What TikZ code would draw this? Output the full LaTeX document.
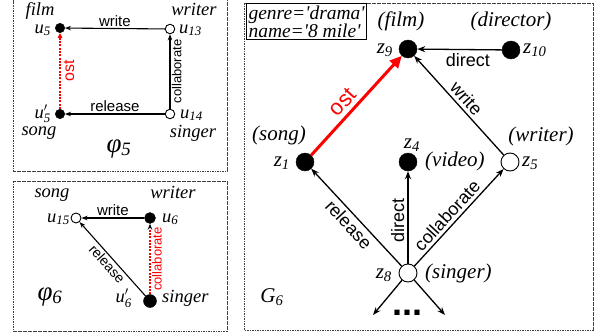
\documentclass[tikz,border=0pt]{standalone}
\usepackage{amsmath}
\usepackage{fontspec}
\setmainfont{Liberation Serif}
\setsansfont{Liberation Sans}
\usetikzlibrary{arrows.meta}
\newcommand\nl[2]{\textit{#1}$_{\textit{#2}}$}
\newcommand\pl[2]{\textit{#1}$^{\prime}_{\textit{#2}}$}
\begin{document}
\begin{tikzpicture}[x=1pt,y=-1pt,
  boxst/.style={draw=black!75,line width=0.9pt,dash pattern=on 1.6pt off 0.9pt},
  fnode/.style={circle,fill=black,draw=black,inner sep=0pt,minimum size=#1},
  fnode/.default=9.5pt,
  onode/.style={circle,fill=white,draw=black,line width=0.9pt,inner sep=0pt,minimum size=#1},
  onode/.default=9.5pt,
  slab/.style={inner sep=0pt,font=\fontsize{18.5}{20}\selectfont},
  glab/.style={inner sep=0pt,font=\fontsize{21}{23}\selectfont},
  philab/.style={inner sep=0pt,font=\fontsize{27}{29}\selectfont},
  sarr/.style={line width=1.1pt,-{Stealth[length=6pt,width=4.5pt]}},
  garr/.style={line width=1.3pt,-{Stealth[length=8pt,width=6pt]}},
  selab/.style={inner sep=1.5pt,font=\sffamily\fontsize{15}{17}\selectfont},
  gelab/.style={inner sep=3pt,font=\sffamily\fontsize{18}{20}\selectfont},
  reddot/.style={red,line width=1.4pt,dash pattern=on 2pt off 1.3pt}
]
\useasboundingbox (0,0) rectangle (597,332);

% ---------- phi 5 ----------
\draw[boxst] (13,-5) rectangle (227,171);
\node[fnode] (u5) at (60,28) {};
\node[onode] (u13) at (170,29) {};
\node[fnode] (u5p) at (60,114) {};
\node[onode] (u14) at (170,114) {};
\node[slab,anchor=base] (tfilm) at (40,15) {\textit{film}};
\node[slab,anchor=base] (twriter1) at (194,15) {\textit{writer}};
\node[slab,anchor=base east] (tu5) at (51,33) {\nl{u}{5}};
\node[slab,anchor=base west] (tu13) at (179,33) {\nl{u}{13}};
\node[slab,anchor=base east] (tu5p) at (51,118) {\pl{u}{5}};
\node[slab,anchor=base west] (tu14) at (180,118) {\nl{u}{14}};
\node[slab,anchor=base] (tsong1) at (39,135) {\textit{song}};
\node[slab,anchor=base] (tsinger1) at (193,137) {\textit{singer}};
\node[philab,anchor=base] (phi5) at (119,152) {\nl{φ}{5}};
\draw[sarr] (u13) -- node[above,selab] {write} (u5);
\draw[sarr] (u14) -- node[above,selab] {release} (u5p);
\draw[sarr] (u14) -- node[below,sloped,selab,font=\sffamily\fontsize{13}{15}\selectfont] {collaborate} (u13);
\draw[reddot,-{Triangle[length=5pt,width=4.5pt]}] (u5p) -- node[below,sloped,inner sep=3pt,text=red,font=\sffamily\fontsize{16}{18}\selectfont] {ost} (u5);

% ---------- phi 6 ----------
\draw[boxst] (13,181) rectangle (227,331);
\node[onode=10pt] (u15) at (76,218) {};
\node[fnode=11pt] (u6) at (150,218) {};
\node[fnode=13pt] (u6p) at (150,301) {};
\node[slab,anchor=base] (tsong2) at (52,197) {\textit{song}};
\node[slab,anchor=base] (twriter2) at (173,198) {\textit{writer}};
\node[slab,anchor=base east] (tu15) at (70,222) {\nl{u}{15}};
\node[slab,anchor=base west] (tu6) at (162,222) {\nl{u}{6}};
\node[slab,anchor=base east] (tu6p) at (132,302) {\pl{u}{6}};
\node[slab,anchor=base west] (tsinger2) at (162,302) {\textit{singer}};
\node[philab,anchor=base] (phi6) at (50,300) {\nl{φ}{6}};
\draw[sarr] (u6) -- node[above,selab] {write} (u15);
\draw[sarr] (u6p) -- node[below,sloped,selab,font=\sffamily\fontsize{14}{16}\selectfont] {release} (u15);
\draw[reddot,-{Stealth[length=6pt,width=4.5pt,black]}] (u6p) -- node[below,sloped,selab,text=red,font=\sffamily\fontsize{13}{15}\selectfont] {collaborate} (u6);

% ---------- G6 ----------
\draw[boxst] (244,3) rectangle (593,330);
\node[draw=black,solid,line width=1pt,anchor=north west,align=left,inner sep=2pt,fill=white,
      font=\fontsize{19.5}{16}\selectfont\itshape] (attr) at (246,3)
      {genre=\textquotesingle drama\textquotesingle\\name=\textquotesingle 8 mile\textquotesingle};
\node[fnode=18pt] (z9) at (408,49) {};
\node[fnode=18pt] (z10) at (511,50) {};
\node[fnode=18pt] (z1) at (305,162) {};
\node[fnode=18pt] (z4) at (408,162) {};
\node[onode=18pt] (z5) at (510,162) {};
\node[onode=18pt] (z8) at (408,273) {};
\coordinate (d1) at (373,315);
\coordinate (d2) at (445,315);
\node[glab,anchor=base] (tfilm3) at (401,27) {\textit{(film)}};
\node[glab,anchor=base] (tdir) at (511,27) {\textit{(director)}};
\node[glab,anchor=base east] (tz9) at (393,53) {\nl{z}{9}};
\node[glab,anchor=base west] (tz10) at (523,53) {\nl{z}{10}};
\node[glab,anchor=base] (tsong3) at (279,140) {\textit{(song)}};
\node[glab,anchor=base east] (tz1) at (290,166) {\nl{z}{1}};
\node[glab,anchor=base] (tz4) at (412,148) {\nl{z}{4}};
\node[glab,anchor=base west] (tvideo) at (425,166) {\textit{(video)}};
\node[glab,anchor=base] (twriter3) at (541,141) {\textit{(writer)}};
\node[glab,anchor=base west] (tz5) at (522,166) {\nl{z}{5}};
\node[glab,anchor=base east] (tz8) at (392,278) {\nl{z}{8}};
\node[glab,anchor=base west] (tsinger3) at (425,278) {\textit{(singer)}};
\node[glab,anchor=base] (tG6) at (272,302) {\nl{G}{6}};
\node[inner sep=0pt,anchor=base,font=\sffamily\bfseries\fontsize{36}{36}\selectfont] (dots) at (407,315) {...};
\draw[garr] (z10) -- node[pos=0.4,below,gelab] {direct} (z9);
\draw[red,line width=3pt,-{Triangle[length=12pt,width=11pt]}] (z1) -- node[pos=0.45,above,sloped,inner sep=4pt,text=red,font=\sffamily\fontsize{22}{24}\selectfont] {ost} (z9);
\draw[garr] (z5) -- node[pos=0.5,above,sloped,gelab] {write} (z9);
\draw[garr] (z8) -- node[pos=0.5,below,sloped,gelab] {release} (z1);
\draw[garr] (z8) -- node[pos=0.47,above,sloped,gelab] {direct} (z4);
\draw[garr] (z8) -- node[pos=0.45,above,sloped,gelab] {collaborate} (z5);
\draw[garr] (z8) -- (d1);
\draw[garr] (z8) -- (d2);
\end{tikzpicture}
\end{document}
